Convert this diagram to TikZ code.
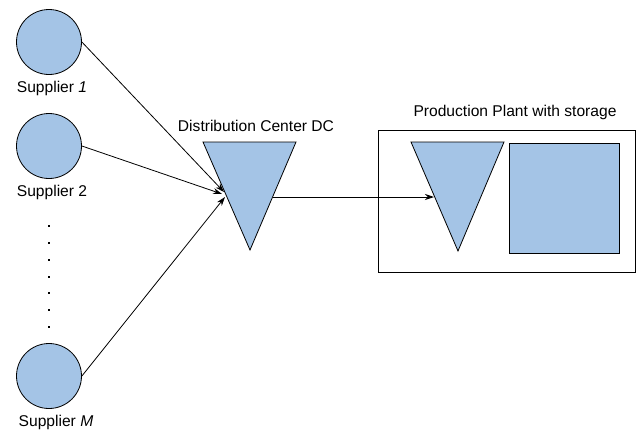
\documentclass[tikz,border=0pt]{standalone}
\usepackage{fontspec}
\setmainfont{Liberation Sans}
\usetikzlibrary{arrows.meta}
\definecolor{fillblue}{HTML}{A4C4E6}
\tikzset{
  x=1pt, y=-1pt,
  supplier/.style={circle, draw=black, fill=fillblue, minimum size=65pt, inner sep=0pt, line width=0.8pt},
  lbl/.style={font=\fontsize{15.6}{18}\selectfont, inner sep=0pt},
  tri/.style={draw=black, fill=fillblue, line width=0.8pt, line join=miter},
  conn/.style={draw=black, line width=0.8pt, -{Stealth[length=9pt,width=6pt]}},
}
\begin{document}
\begin{tikzpicture}
\useasboundingbox (0,0) rectangle (637,434);
% suppliers
\node[supplier] (s1) at (49,42) {};
\node[supplier] (s2) at (49,146) {};
\node[supplier] (sM) at (49,376) {};
\node[lbl] (l1) at (52,88) {Supplier \textit{1}};
\node[lbl] (l2) at (52,192) {Supplier 2};
\node[lbl] (lM) at (56,422) {Supplier \textit{M}};
% dots
\foreach \yy in {225,242,259,276,292,309,326}
  \fill (48,\yy) rectangle ++(1.8,1.8);
% distribution center
\coordinate (dcA) at (203,142);
\coordinate (dcB) at (296,142);
\coordinate (dcC) at (250,250);
\path[tri] (dcA) -- (dcB) -- (dcC) -- cycle;
\node[lbl] (ldc) at (256,126) {Distribution Center DC};
\coordinate (in1) at (224,192);
\coordinate (in2) at (222,194);
\coordinate (inM) at (225,197);
\coordinate (dcout) at (273,197);
% plant
\node[draw=black, line width=0.8pt, minimum width=257pt, minimum height=142pt, inner sep=0pt, anchor=north west] (plant) at (378,130) {};
\node[lbl] (lplant) at (515,112) {Production Plant with storage};
\coordinate (ptA) at (411,142);
\coordinate (ptB) at (504,142);
\coordinate (ptC) at (458,251);
\path[tri] (ptA) -- (ptB) -- (ptC) -- cycle;
\coordinate (ptin) at (434,197);
\node[draw=black, fill=fillblue, line width=0.8pt, minimum width=110pt, minimum height=110pt, inner sep=0pt, anchor=north west] (store) at (509,143) {};
% connectors
\draw[conn] (s1.east) -- (in1);
\draw[conn] (s2.east) -- (in2);
\draw[conn] (sM.east) -- (inM);
\draw[conn] (dcout) -- (ptin);
\end{tikzpicture}
\end{document}
